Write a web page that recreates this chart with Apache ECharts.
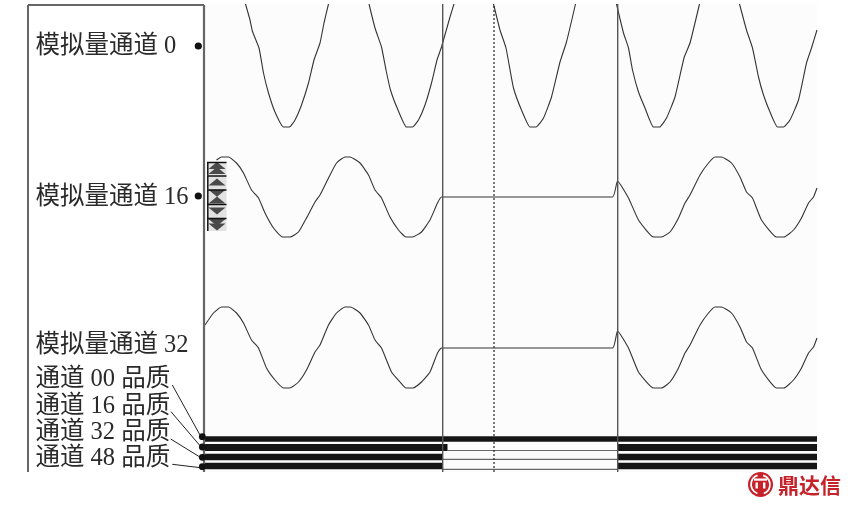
<!DOCTYPE html>
<html>
<head>
<meta charset="utf-8">
<style>html,body{margin:0;padding:0;background:#fff}#c{width:850px;height:507px}</style>
<script src="https://cdn.jsdelivr.net/npm/echarts@6/dist/echarts.min.js"></script>
</head>
<body>
<div id="c"></div>
<script>
const analogLabels = ['模拟量通道 0', '模拟量通道 16', '模拟量通道 32'];
const qualityLabels = ['通道 00 品质', '通道 16 品质', '通道 32 品质', '通道 48 品质'];
const logoText = '鼎达信';

// null = waveform is off the top of the visible scale
const ch0Time = [40.5,45,47.5,54,58.5,63.5,70,78.5,84.5,90,96.5,103.5,109,115,119,123.5,
  140,
  164,170,176.5,181,185.5,193,201.5,207.5,213.5,220,226.5,232,236.5,245,249,
  270,
  288.5,295,301,308.5,316.5,325,331,338.5,346.5,355,361.5,370.5,
  390,
  411.5,418.5,423.5,427.5,433.5,440,448.5,454.5,461.5,470,479,485,494.5,
  515,
  534.5,541.5,547.5,553.5,558.5,565,572.5,578.5,585,593.5,601.5,606.5,612];
const ch0Value = [468,452,440.5,424,399,379,360,345,345,352,367,389,412,429,449,468,
  null,
  468,444,425,402,382,362,345,345,352,367,389,412,425,455,468,
  null,
  468,442,424,384,362,345,345,354,375,410,430,468,
  null,
  468,439,424,402,380,364,345,345,354,375,414,429,468,
  null,
  468,442,424,395,377,360,345,345,352,372,409,424,442];

const ch16Time = [11.5,16.5,23.5,31.5,38.5,46.5,53.5,60,68.5,77.5,85,93.5,101.5,110,115,123.5,131.5,140,145,155,163.5,170,176.5,185,193.5,201,207.5,216.5,225,232.5,236.5,407.5,412.5,423.5,433.5,448.5,456.5,465,473.5,480,485,495,503.5,510,516.5,526.5,535,541.5,547.5,556.5,571.5,579,588.5,596.5,603.5,608.5,612];
const ch16Value = [312,315,315,309,299,282,274,259,244,235,235,240,254,270,277,294,309,315,315,309,297,282,274,255,242,235,235,240,252,269,275,275,291,274,252,235,235,240,254,269,277,297,309,315,315,309,295,280,274,252,235,235,242,254,269,275,284];

const ch32Time = [0,8.5,16.5,23.5,31.5,38.5,46.5,53.5,61.5,70,78.5,85,93.5,101.5,110,115,123.5,131.5,140,145.5,155,163.5,170,176.5,186.5,195,201,208,216.5,225,232.5,236.5,407.5,412.5,423.5,433.5,448.5,456.5,465,473.5,480,485,495,503.5,510,516.5,526.5,535,541.5,547.5,556.5,571.5,579,588.5,596.5,603.5,608.5,612];
const ch32Value = [147,159,165,165,159,149,132,124,104,92,84,84,90,102,120,127,147,159,165,165,159,147,132,124,100,90,84,84,90,100,119,124,124,141,124,100,84,84,90,104,119,127,147,159,165,165,159,145,130,124,102,84,84,92,104,119,125,134];

const q00Time = [0,612];
const q00Value = [33,33];
const q16Time = [0,242.5,242.5,412.5,612];
const q16Value = [24.5,24.5,null,24.5,24.5];
const q32Time = [0,237.5,237.5,412.5,612];
const q32Value = [15,15,null,15,15];
const q48Time = [0,237.5,237.5,412.5,612];
const q48Value = [6,6,null,6,6];
const lost16 = [[242.5,21.5],[412.5,21.5]];
const lost32 = [[237.5,12.7],[412.5,12.7]];
const lost48 = [[237.5,2.7],[412.5,2.7]];

const cursorTimes = [237.7, 289, 412.7];

const zip = (t, v) => t.map((x, i) => [x, v[i]]);
const wave = (t, v) => ({
  type: 'line', data: zip(t, v), showSymbol: false, symbol: 'none', smooth: 0.15,
  connectNulls: false, clip: true, z: 3, silent: true,
  lineStyle: { color: '#333', width: 1.1 }
});
const bar = (t, v, w) => ({
  type: 'line', data: zip(t, v), symbol: 'none', connectNulls: false, z: 4, silent: true,
  lineStyle: { color: '#151515', width: w, cap: 'butt' }
});
const thin = d => ({
  type: 'line', data: d, symbol: 'none', z: 3, silent: true,
  lineStyle: { color: '#666', width: 1.2 }
});
const cursor = (t, dotted) => ({
  type: 'line', data: [[t, 0], [t, 468]], symbol: 'none', z: 5, silent: true,
  lineStyle: dotted ? { color: '#222', width: 1.2, type: [2, 2] } : { color: '#555', width: 1.4 }
});

const txt = (s, x, y, extra) => ({
  type: 'text', z: 50, silent: true, x, y,
  style: Object.assign({ text: s, fill: '#2a2a2a', font: "24.5px 'Liberation Serif','Noto Sans CJK SC'", textVerticalAlign: 'middle', textAlign: 'left' }, extra || {})
});
const ln = (x1, y1, x2, y2, c, w) => ({
  type: 'line', z: 50, silent: true, shape: { x1, y1, x2, y2 }, style: { stroke: c || '#222', lineWidth: w || 1 }
});
const dot = (x, y, r) => ({
  type: 'circle', z: 51, silent: true, shape: { cx: x, cy: y, r }, style: { fill: '#111' }
});
const tri = (x, y, dir) => ({
  type: 'polygon', z: 62, silent: true,
  shape: { points: dir > 0 ? [[x - 8.5, y + 3.5], [x + 8.5, y + 3.5], [x, y - 3.5]] : [[x - 8.5, y - 3.5], [x + 8.5, y - 3.5], [x, y + 3.5]] },
  style: { fill: '#4a4a4a' }
});
const button = (top, h, icons) => [
  { type: 'rect', z: 60, silent: true, shape: { x: 207, y: top, width: 19.5, height: h }, style: { fill: '#e2e2e2' } },
  { type: 'line', z: 63, silent: true, shape: { x1: 207, y1: top + 0.5, x2: 226.5, y2: top + 0.5 }, style: { stroke: '#111', lineWidth: 1.5 } },
  { type: 'line', z: 63, silent: true, shape: { x1: 207.8, y1: top, x2: 207.8, y2: top + h }, style: { stroke: '#111', lineWidth: 1.5 } }
].concat(icons.map(i => tri(217, top + i[0], i[1])));

const graphics = [
  ln(28, 5, 204, 5, '#666', 2),
  ln(28, 5, 28, 472, '#666', 2),
  ln(204, 5, 204, 472, '#666', 2.2),
  txt(analogLabels[0], 35.5, 47),
  txt(analogLabels[1], 35.5, 198),
  txt(analogLabels[2], 35.5, 346),
  txt(qualityLabels[0], 35.5, 380),
  txt(qualityLabels[1], 35.5, 407),
  txt(qualityLabels[2], 35.5, 433),
  txt(qualityLabels[3], 35.5, 459),
  dot(198.3, 46, 3.6), dot(198.3, 196, 3.6),
  dot(202.3, 436.7, 3.4), dot(202.3, 447, 3.4), dot(202.3, 457.3, 3.4), dot(202.3, 466.7, 3.4),
  ln(172.3, 385, 200, 435), ln(171, 411.7, 200, 445.7), ln(170.7, 439, 199, 456.5), ln(172.3, 464.3, 199, 467.5)
]
  .concat(button(162, 13, [[3.5, 1], [8.5, 1]]))
  .concat(button(175.5, 13.5, [[6.5, 1]]))
  .concat(button(189.5, 14.5, [[3.8, -1], [10.5, 1]]))
  .concat(button(204, 14, [[7, -1]]))
  .concat(button(218, 13, [[4.5, -1], [9, -1]]))
  .concat([
    { type: 'circle', z: 70, silent: true, shape: { cx: 760.5, cy: 484.5, r: 12.5 }, style: { fill: '#c5222a' } },
    { type: 'arc', z: 71, silent: true, shape: { cx: 760.5, cy: 484.5, r: 9.5, startAngle: 1.9, endAngle: 4.4 }, style: { stroke: '#fff', lineWidth: 1.8, fill: 'none' } },
    { type: 'arc', z: 71, silent: true, shape: { cx: 760.5, cy: 484.5, r: 9.5, startAngle: 5.0, endAngle: 7.5 }, style: { stroke: '#fff', lineWidth: 1.8, fill: 'none' } },
    { type: 'rect', z: 72, silent: true, shape: { x: 754, y: 478.5, width: 13, height: 2.2 }, style: { fill: '#fff' } },
    { type: 'rect', z: 72, silent: true, shape: { x: 755.5, y: 482.5, width: 2.4, height: 6 }, style: { fill: '#fff' } },
    { type: 'rect', z: 72, silent: true, shape: { x: 763, y: 482.5, width: 2.4, height: 6 }, style: { fill: '#fff' } },
    txt(logoText, 778, 485, { fill: '#c5222a', font: "bold 21px 'Noto Sans CJK SC'" })
  ]);

const chart = echarts.init(document.getElementById('c'), null, { renderer: 'canvas' });
chart.setOption({
  animation: false,
  backgroundColor: '#fff',
  grid: { left: 205, top: 4, width: 612, height: 468, show: true, backgroundColor: '#fcfcfc', borderWidth: 0 },
  xAxis: { type: 'value', min: 0, max: 612, show: false },
  yAxis: { type: 'value', min: 0, max: 468, show: false },
  series: [
    wave(ch0Time, ch0Value),
    wave(ch16Time, ch16Value),
    wave(ch32Time, ch32Value),
    bar(q00Time, q00Value, 5.5),
    bar(q16Time, q16Value, 7),
    bar(q32Time, q32Value, 6.5),
    bar(q48Time, q48Value, 6.5),
    thin(lost16), thin(lost32), thin(lost48),
    cursor(cursorTimes[0], false),
    cursor(cursorTimes[1], true),
    cursor(cursorTimes[2], false)
  ],
  graphic: { elements: graphics }
});
</script>
</body>
</html>
